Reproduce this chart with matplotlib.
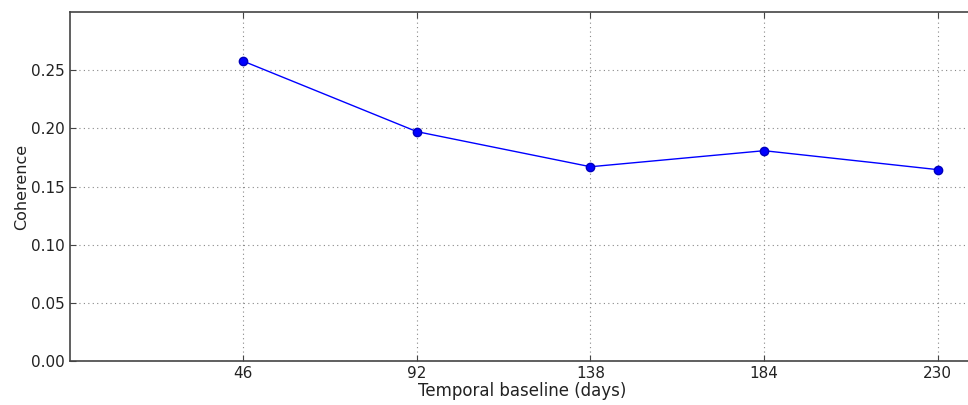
import matplotlib
matplotlib.use("Agg")
import matplotlib.pyplot as plt

baseline_days = [46, 92, 138, 184, 230]
coherence = [0.2578, 0.1972, 0.1670, 0.1808, 0.1645]
y_ticks = [0.00, 0.05, 0.10, 0.15, 0.20, 0.25]

fig = plt.figure(figsize=(9.68, 4.05), dpi=100)
ax = fig.add_axes([0.0718, 0.1086, 0.936, 0.8617])

ax.plot(baseline_days, coherence, color="#0000ff", linewidth=1,
        marker="o", markersize=6, markeredgecolor="#0000bb")

ax.set_xlim(0, 240)
ax.set_ylim(0, 0.3)
ax.set_xticks(baseline_days)
ax.set_yticks(y_ticks)
ax.set_yticklabels([f"{v:.2f}" for v in y_ticks])
ax.grid(True, linestyle=(0, (1, 3)), color="#888888", linewidth=0.8)
ax.tick_params(direction="in", top=True, right=True, labelsize=11, length=4,
               color="#444444", labelcolor="#222222")
ax.spines["right"].set_visible(False)
for s in ax.spines.values():
    s.set_color("#444444")
    s.set_linewidth(1.2)

ax.set_xlabel("Temporal baseline (days)", fontsize=12, labelpad=1, color="#222222")
ax.set_ylabel("Coherence", fontsize=11.5, labelpad=1, color="#222222")

fig.savefig("out.png", dpi=100)
